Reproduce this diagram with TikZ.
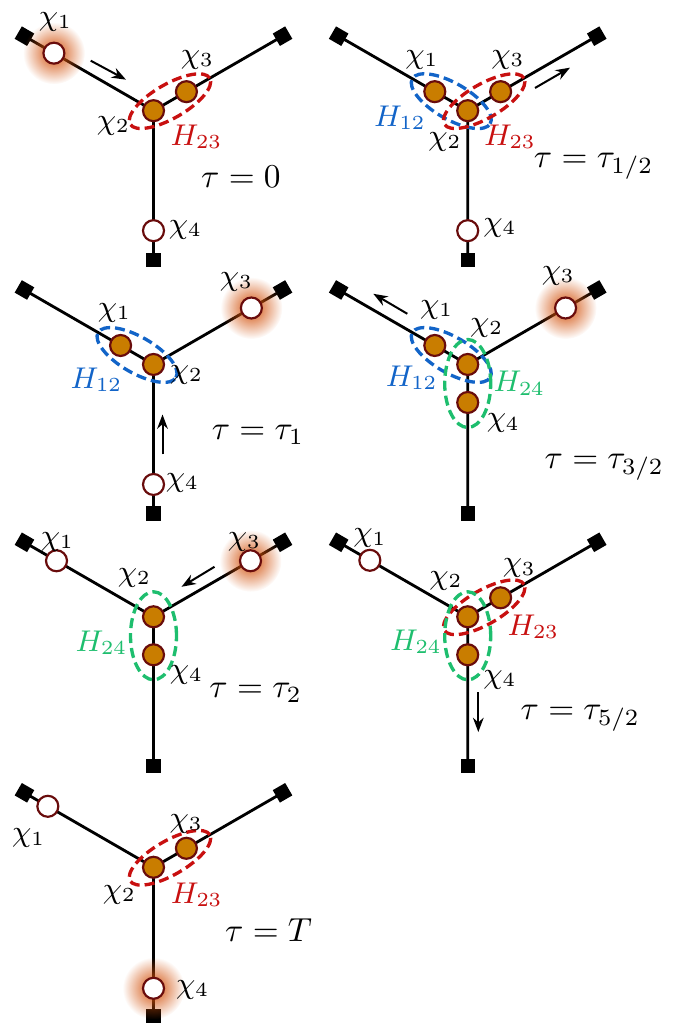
\documentclass[tikz,border=0pt]{standalone}
\usepackage{amsmath,amssymb}
\usetikzlibrary{arrows.meta,fadings}

\definecolor{chifill}{RGB}{201,125,0}
\definecolor{chiline}{RGB}{105,12,12}
\definecolor{hred}{RGB}{200,16,16}
\definecolor{hblue}{RGB}{18,100,200}
\definecolor{hgreen}{RGB}{30,190,110}
\definecolor{glowc}{RGB}{210,80,10}

\tikzfading[name=glowfade,inner color=transparent!0,outer color=transparent!100]

\tikzset{
  arm/.style={line width=.85pt},
  wall/.style={rectangle,fill,minimum size=4.3pt,inner sep=0pt},
  bound/.style={circle,draw=chiline,fill=chifill,line width=.65pt,minimum size=6.3pt,inner sep=0pt},
  free/.style={circle,draw=chiline,fill=white,line width=.65pt,minimum size=6.3pt,inner sep=0pt},
  pair/.style={dash pattern=on 3pt off 1.5pt,line width=1pt},
  lab/.style={inner sep=0pt,font=\small},
  tlab/.style={inner sep=0pt,anchor=base west},
  move/.style={-{Stealth[length=4.3pt,width=3.2pt]},line width=.6pt},
}

\newcommand\yframe{%
  \coordinate (j) at (0,0);
  \node[wall,rotate=-30] (wl) at (150:149) {};
  \node[wall,rotate=30] (wr) at (30:149) {};
  \node[wall] (wb) at (270:149) {};
  \draw[arm] (j)--(wl.center) (j)--(wr.center) (j)--(wb.center);
}
\newcommand\glow[1]{\fill[glowc,path fading=glowfade] (#1) circle (31);}

\begin{document}
\begin{tikzpicture}[x=.3pt,y=.3pt]
\useasboundingbox (0,0) rectangle (696,1025);

\begin{scope}[shift={(153.5,914.3)}]
\yframe
\glow{150:115}
\node[bound] (c2) at (j) {};
\node[free] (c1) at (150:115) {};
\node[bound] (c3) at (30:38) {};
\node[free] (c4) at (270:120) {};
\draw[pair,hred,rotate around={30:(30:19)}] (30:19) ellipse [x radius=46,y radius=17];
\node[lab] (l1) at (-98,89) {$\chi_1$};
\node[lab] (l2) at (-40,-15) {$\chi_2$};
\node[lab] (l3) at (44,51) {$\chi_3$};
\node[lab] (l4) at (32,-119) {$\chi_4$};
\node[lab,hred] (h23) at (43,-26) {$H_{23}$};
\node[tlab] (tau) at (47,-77) {$\tau=0$};
\draw[move] (-62.8,50) -- (-27.5,31);
\end{scope}

\begin{scope}[shift={(467.7,914.3)}]
\yframe
\node[bound] (c2) at (j) {};
\node[bound] (c1) at (150:38) {};
\node[bound] (c3) at (30:38) {};
\node[free] (c4) at (270:120) {};
\draw[pair,hblue,rotate around={-30:(150:19)}] (150:19) ellipse [x radius=45,y radius=18];
\draw[pair,hred,rotate around={30:(30:19)}] (30:19) ellipse [x radius=46,y radius=17];
\node[lab] (l1) at (-45.7,50.7) {$\chi_1$};
\node[lab] (l2) at (-22.7,-31.3) {$\chi_2$};
\node[lab] (l3) at (40.3,50.7) {$\chi_3$};
\node[lab] (l4) at (32.3,-117.3) {$\chi_4$};
\node[lab,hblue] (h12) at (-67.7,-7.3) {$H_{12}$};
\node[lab,hred] (h23) at (42.3,-26.3) {$H_{23}$};
\node[tlab] (tau) at (65.6,-57.3) {$\tau=\tau_{1/2}$};
\draw[move] (67.3,22.7) -- (102.3,43);
\end{scope}

\begin{scope}[shift={(153.5,660.5)}]
\yframe
\glow{30:113}
\node[bound] (c2) at (j) {};
\node[bound] (c1) at (150:38) {};
\node[free] (c3) at (30:113) {};
\node[free] (c4) at (270:120) {};
\draw[pair,hblue,rotate around={-30:(150:19)}] (150:19) ellipse [x radius=45,y radius=18];
\node[lab] (l1) at (-39,52) {$\chi_1$};
\node[lab] (l2) at (33,-10) {$\chi_2$};
\node[lab] (l3) at (83,83) {$\chi_3$};
\node[lab] (l4) at (29,-118) {$\chi_4$};
\node[lab,hblue] (h12) at (-57,-15) {$H_{12}$};
\node[tlab] (tau) at (57.7,-75) {$\tau=\tau_1$};
\draw[move] (9,-90) -- (9,-50);
\end{scope}

\begin{scope}[shift={(467.7,660.5)}]
\yframe
\glow{30:113}
\node[bound] (c2) at (j) {};
\node[bound] (c1) at (150:38) {};
\node[free] (c3) at (30:113) {};
\node[bound] (c4) at (270:38) {};
\draw[pair,hblue,rotate around={-30:(150:19)}] (150:19) ellipse [x radius=45,y radius=18];
\draw[pair,hgreen] (0,-19) ellipse [x radius=23,y radius=44];
\node[lab] (l1) at (-31,55) {$\chi_1$};
\node[lab] (l2) at (19,37) {$\chi_2$};
\node[lab] (l3) at (90.6,89) {$\chi_3$};
\node[lab] (l4) at (35.6,-58.7) {$\chi_4$};
\node[lab,hblue] (h12) at (-56,-13) {$H_{12}$};
\node[lab,hgreen] (h24) at (51.6,-18.7) {$H_{24}$};
\node[tlab] (tau) at (76.3,-104) {$\tau=\tau_{3/2}$};
\draw[move] (-60.4,50.7) -- (-94.4,70.7);
\end{scope}

\begin{scope}[shift={(153.5,408.2)}]
\yframe
\glow{30:112}
\node[bound] (c2) at (j) {};
\node[free] (c1) at (150:112) {};
\node[free] (c3) at (30:112) {};
\node[bound] (c4) at (270:38) {};
\draw[pair,hgreen] (0,-19) ellipse [x radius=23,y radius=44];
\node[lab] (l1) at (-96,75) {$\chi_1$};
\node[lab] (l2) at (-19,39) {$\chi_2$};
\node[lab] (l3) at (91,75) {$\chi_3$};
\node[lab] (l4) at (33,-58) {$\chi_4$};
\node[lab,hgreen] (h24) at (-52,-26) {$H_{24}$};
\node[tlab] (tau) at (55.3,-81) {$\tau=\tau_2$};
\draw[move] (61,50) -- (28,30);
\end{scope}

\begin{scope}[shift={(467.7,408.2)}]
\yframe
\node[bound] (c2) at (j) {};
\node[free] (c1) at (150:113) {};
\node[bound] (c3) at (30:38) {};
\node[bound] (c4) at (270:38) {};
\draw[pair,hred,rotate around={30:(30:19)}] (30:19) ellipse [x radius=46,y radius=17];
\draw[pair,hgreen] (0,-19) ellipse [x radius=23,y radius=44];
\node[lab] (l1) at (-97.7,78.4) {$\chi_1$};
\node[lab] (l2) at (-21.7,36) {$\chi_2$};
\node[lab] (l3) at (51.6,48.4) {$\chi_3$};
\node[lab] (l4) at (32.3,-63.3) {$\chi_4$};
\node[lab,hred] (h23) at (65.6,-10) {$H_{23}$};
\node[lab,hgreen] (h24) at (-51.7,-25) {$H_{24}$};
\node[tlab] (tau) at (52.3,-103) {$\tau=\tau_{5/2}$};
\draw[move] (10.6,-75.3) -- (10.6,-115.3);
\end{scope}

\begin{scope}[shift={(153.5,157.7)}]
\yframe
\glow{270:121}
\node[bound] (c2) at (j) {};
\node[free] (c1) at (150:122) {};
\node[bound] (c3) at (30:38) {};
\node[free] (c4) at (270:121) {};
\draw[pair,hred,rotate around={30:(30:19)}] (30:19) ellipse [x radius=46,y radius=17];
\node[lab] (l1) at (-124.7,29) {$\chi_1$};
\node[lab] (l2) at (-34,-27.7) {$\chi_2$};
\node[lab] (l3) at (32.7,43.3) {$\chi_3$};
\node[lab] (l4) at (39.3,-122.7) {$\chi_4$};
\node[lab,hred] (h23) at (43.3,-27.7) {$H_{23}$};
\node[tlab] (tau) at (71,-74.4) {$\tau=T$};
\end{scope}
\end{tikzpicture}
\end{document}
